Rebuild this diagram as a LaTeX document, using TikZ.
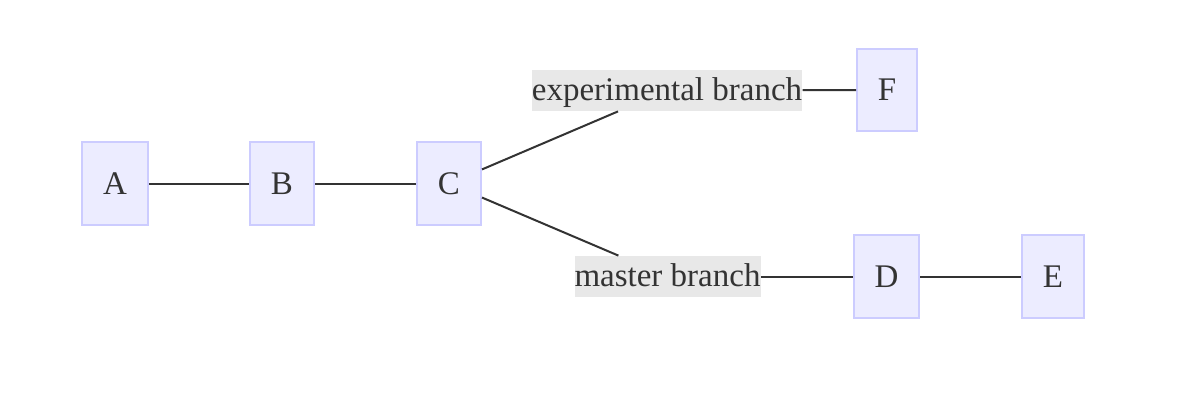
\documentclass[tikz,border=0pt]{standalone}
\usepackage{fontspec}
\setmainfont{Liberation Serif}
\definecolor{nodefill}{HTML}{ECECFF}
\definecolor{nodeline}{HTML}{CCCCFF}
\definecolor{txt}{HTML}{333333}
\definecolor{lblbg}{HTML}{E8E8E8}
\tikzset{
  box/.style={draw=nodeline, line width=1pt, fill=nodefill, inner sep=0pt, text=txt,
    font=\fontsize{16.5pt}{20pt}\selectfont},
  lbl/.style={fill=lblbg, inner xsep=0pt, inner ysep=0pt, text=txt, minimum height=20.5pt,
    text height=12.5pt, text depth=2.5pt,
    font=\fontsize{16.5pt}{20pt}\selectfont},
  edge/.style={draw=txt, line width=1pt}
}
\begin{document}
\begin{tikzpicture}[x=0.5pt,y=-0.5pt]
\useasboundingbox (0,0) rectangle (1200,408);
\node[box, minimum width=33pt, minimum height=41.5pt] (A) at (115,183.5) {A};
\node[box, minimum width=32pt, minimum height=41.5pt] (B) at (282,183.5) {B};
\node[box, minimum width=32pt, minimum height=41.5pt] (C) at (449,183.5) {C};
\node[box, minimum width=30pt, minimum height=41pt] (F) at (887,90) {F};
\node[box, minimum width=32.5pt, minimum height=41.5pt] (D) at (886.5,276.5) {D};
\node[box, minimum width=31pt, minimum height=41.5pt] (E) at (1053,276.5) {E};
\node[lbl, minimum width=135pt] (Lexp) at (667,90.5) {experimental branch};
\node[lbl, minimum width=92.5pt] (Lmas) at (667.5,276.5) {master branch};
\draw[edge] (A) -- (B);
\draw[edge] (B) -- (C);
\draw[edge] (C) -- (Lexp);
\draw[edge] (Lexp) -- (F);
\draw[edge] (C) -- (Lmas);
\draw[edge] (Lmas) -- (D);
\draw[edge] (D) -- (E);
\end{tikzpicture}
\end{document}
